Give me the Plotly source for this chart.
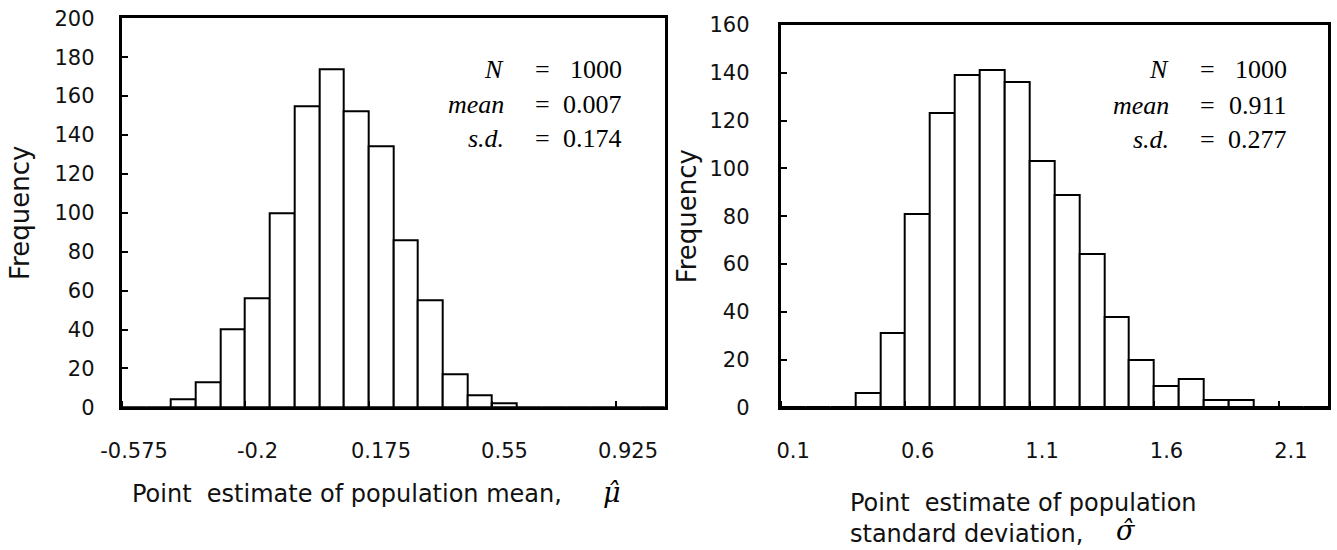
import plotly.graph_objects as go

W, H = 1337, 550

# ---------------- data ----------------
# Left histogram: point estimate of population mean (bin labels, frequencies)
mean_bins = [-0.575, -0.5, -0.425, -0.35, -0.275, -0.2, -0.125, -0.05, 0.025, 0.1, 0.175,
             0.25, 0.325, 0.4, 0.475, 0.55, 0.625, 0.7, 0.775, 0.85, 0.925, 1.0]
mean_counts = [0, 0, 4, 13, 40, 56, 100, 155, 174, 152, 134,
               86, 55, 17, 6, 2, 0, 0, 0, 0, 0, 0]
mean_ticklabels = ["-0.575", "-0.2", "0.175", "0.55", "0.925"]

# Right histogram: point estimate of population standard deviation
sd_bins = [0.1, 0.2, 0.3, 0.4, 0.5, 0.6, 0.7, 0.8, 0.9, 1.0, 1.1,
           1.2, 1.3, 1.4, 1.5, 1.6, 1.7, 1.8, 1.9, 2.0, 2.1, 2.2]
sd_counts = [0, 0, 0, 6, 31, 81, 123, 139, 141, 136, 103,
             89, 64, 38, 20, 9, 12, 3, 3, 0, 0, 0]
sd_ticklabels = ["0.1", "0.6", "1.1", "1.6", "2.1"]

mean_stats = [("N", "1000"), ("mean", "0.007"), ("s.d.", "0.174")]
sd_stats = [("N", "1000"), ("mean", "0.911"), ("s.d.", "0.277")]

# ---------------- helpers ----------------
def px(x):
    return x / W

def py(y):
    return 1 - y / H

SANS = "DejaVu Sans"
SERIF = "Liberation Serif"

fig = go.Figure()

bar_style = dict(color="white", line=dict(color="black", width=2))
fig.add_trace(go.Bar(x=mean_bins, y=mean_counts, width=0.075, marker=bar_style,
                     xaxis="x", yaxis="y", showlegend=False, hoverinfo="x+y"))
fig.add_trace(go.Bar(x=sd_bins, y=sd_counts, width=0.1, marker=bar_style,
                     xaxis="x2", yaxis="y2", showlegend=False, hoverinfo="x+y"))

frame = dict(showline=True, linecolor="black", linewidth=3, mirror=True,
             showgrid=False, zeroline=False, automargin=False)
tickfont = dict(family=SANS, size=21, color="#111")

mean_tickvals = [mean_bins[i] for i in (0, 5, 10, 15, 20)]
sd_tickvals = [sd_bins[i] for i in (0, 5, 10, 15, 20)]

fig.update_layout(
    width=W, height=H, autosize=False,
    margin=dict(l=0, r=0, t=0, b=0),
    paper_bgcolor="white", plot_bgcolor="white",
    bargap=0,
    xaxis=dict(domain=[px(121.7), px(665)], range=[-0.6125, 1.0375],
               tickmode="array", tickvals=mean_tickvals, ticktext=mean_ticklabels,
               ticks="", tickfont=tickfont, ticklabelstandoff=22,
               minor=dict(tickmode="linear", tick0=-0.6125, dtick=0.375,
                          ticks="inside", ticklen=6, tickwidth=1.5, tickcolor="black"),
               anchor="y", **frame),
    yaxis=dict(domain=[py(407.3), py(18.3)], range=[0, 200], dtick=20,
               ticks="inside", ticklen=6, tickwidth=1.5, tickcolor="black",
               tickfont=tickfont, ticklabelstandoff=20, anchor="x",
               title=dict(text="Frequency", font=dict(family=SANS, size=26, color="#111"),
                          standoff=18),
               **frame),
    xaxis2=dict(domain=[px(780.7), px(1328.3)], range=[0.05, 2.25],
                tickmode="array", tickvals=sd_tickvals, ticktext=sd_ticklabels,
                ticks="", tickfont=tickfont, ticklabelstandoff=22,
                minor=dict(tickmode="linear", tick0=0.05, dtick=0.5,
                           ticks="inside", ticklen=6, tickwidth=1.5, tickcolor="black"),
                anchor="y2", **frame),
    yaxis2=dict(domain=[py(407.3), py(25)], range=[0, 160], dtick=20,
                ticks="inside", ticklen=6, tickwidth=1.5, tickcolor="black",
                tickfont=tickfont, ticklabelstandoff=24, anchor="x2",
                title=dict(text="Frequency", font=dict(family=SANS, size=26, color="#111"),
                           standoff=6),
                **frame),
)

annotations = []

def ann(text, x, y, xanchor="center", size=26, family=SERIF, **kw):
    annotations.append(dict(text=text, x=px(x), y=py(y), xref="paper", yref="paper",
                            xanchor=xanchor, yanchor="middle", showarrow=False,
                            font=dict(family=family, size=size, color="black"), **kw))

def stats_block(stats, value_right, ys):
    for (lab, val), yy in zip(stats, ys):
        ann(f"<i>{lab}</i>", value_right - 118, yy, xanchor="right")
        ann("=", value_right - 82, yy)
        ann(val, value_right, yy, xanchor="right")

stats_block(mean_stats, 624, [70, 104, 139])
stats_block(sd_stats, 1289, [70, 105, 140])

title_font = dict(family=SANS, size=24, color="#111")

annotations.append(dict(text="Point  estimate of population mean,",
                        x=px(130), y=py(494), xref="paper", yref="paper",
                        xanchor="left", yanchor="middle", showarrow=False, font=title_font))
annotations.append(dict(text="Point  estimate of population<br>standard deviation,",
                        x=px(848), y=py(518), xref="paper", yref="paper", align="left",
                        xanchor="left", yanchor="middle", showarrow=False, font=title_font))

# estimator symbols (Greek letter with a combining hat)
ann("<i>\u03bc\u0302</i>", 612, 492, size=27, family="DejaVu Serif")
ann("<i>\u03c3\u0302</i>", 1126, 530, size=27, family="DejaVu Serif")

fig.update_layout(annotations=annotations)

fig.write_html("out.html", config={"displayModeBar": False},
               post_script="document.body.style.margin='0';")
